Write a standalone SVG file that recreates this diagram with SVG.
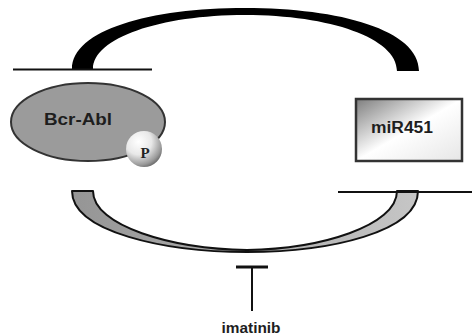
<svg xmlns="http://www.w3.org/2000/svg" width="472" height="336" viewBox="0 0 472 336">
  <defs>
    <style>
      .bar { stroke: #111; stroke-width: 2.2; fill: none; }
      .label { font-family: "Liberation Sans", Arial, sans-serif; font-weight: bold; fill: #1e1e1e; text-anchor: middle; }
    </style>
    <linearGradient id="boxFill" x1="0" y1="0" x2="1" y2="1">
      <stop offset="0" stop-color="#7e7e7e"/>
      <stop offset="0.5" stop-color="#ffffff"/>
      <stop offset="1" stop-color="#e6e6e6"/>
    </linearGradient>
    <linearGradient id="arcFill" x1="0" y1="0" x2="1" y2="0">
      <stop offset="0" stop-color="#959595"/>
      <stop offset="1" stop-color="#c6c6c6"/>
    </linearGradient>
    <radialGradient id="phospho" cx="0.35" cy="0.3" r="0.8">
      <stop offset="0" stop-color="#ffffff"/>
      <stop offset="0.45" stop-color="#e8e8e8"/>
      <stop offset="0.8" stop-color="#9a9a9a"/>
      <stop offset="1" stop-color="#555555"/>
    </radialGradient>
  </defs>

  <rect width="472" height="336" fill="#ffffff"/>

  <g id="connectors">
    <!-- feedback arc: miR451 represses Bcr-Abl -->
    <path d="M72 69 C72 30 150 8 245 8 C340 8 419 30 419 71 L397 71 C397 38 330 15 245 15 C160 15 93 38 93 69 Z" fill="#000"/>
    <line class="bar" x1="13" y1="69.5" x2="152" y2="69.5"/>
    <!-- lower arc: Bcr-Abl represses miR451 -->
    <path d="M72 191 C72 232 165 252 247 252 C330 252 418 232 418 191 L397 191 C397 226 320 249 247 250 C172 249 93 226 93 191 Z" fill="url(#arcFill)" stroke="#111" stroke-width="2" stroke-linejoin="round"/>
    <line class="bar" x1="338" y1="192" x2="472" y2="192"/>
    <!-- imatinib inhibition -->
    <line x1="252" y1="267" x2="252" y2="311" stroke="#111" stroke-width="2"/>
    <line x1="236" y1="267" x2="268" y2="267" stroke="#111" stroke-width="3"/>
  </g>

  <g id="bcr-abl">
    <ellipse cx="88" cy="122" rx="77" ry="39" fill="#9b9b9b" stroke="#333" stroke-width="2"/>
    <text class="label" x="78" y="125" font-size="17" textLength="68" lengthAdjust="spacingAndGlyphs">Bcr-Abl</text>
    <circle cx="144" cy="149" r="18" fill="url(#phospho)"/>
    <text x="145" y="158" font-family="Liberation Serif, 'Times New Roman', serif" font-weight="bold" font-size="15" fill="#222" text-anchor="middle">P</text>
  </g>

  <g id="mir451">
    <rect x="356" y="99" width="106" height="62" fill="url(#boxFill)" stroke="#333" stroke-width="2.5"/>
    <text class="label" x="402" y="133" font-size="16" textLength="62" lengthAdjust="spacingAndGlyphs">miR451</text>
  </g>

  <g id="imatinib">
    <text class="label" x="251" y="333" font-size="14" textLength="59" lengthAdjust="spacingAndGlyphs">imatinib</text>
  </g>
</svg>
